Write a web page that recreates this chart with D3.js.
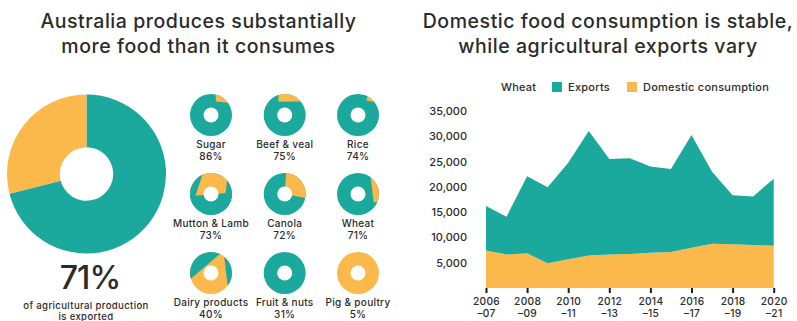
<!DOCTYPE html>
<html lang="en">
<head>
<meta charset="UTF-8">
<title>Australian food production</title>
<script src="https://d3js.org/d3.v7.min.js"></script>
<style>
  body { margin: 0; background: #fff; }
  text { font-family: Inter, "Noto Sans", sans-serif; fill: #2b2b2b; }
</style>
</head>
<body>
<div id="chart"></div>
<script>
  const teal = "#1ba89d";
  const orange = "#fbb94c";

  // left panel
  const exportedShare = [71, 29];   // exported, domestic
  const cropNames = ["Sugar", "Beef & veal", "Rice", "Mutton & Lamb", "Canola", "Wheat",
                     "Dairy products", "Fruit & nuts", "Pig & poultry"];
  const cropExportPct = [86, 75, 74, 73, 72, 71, 40, 31, 5];
  // colour that fills each small donut before its patches are laid on
  const cropBase = ["exp", "exp", "exp", "exp", "exp", "exp", "dom", "exp", "dom"];
  // patches as drawn in the picture: [from deg, to deg, colour, closing corner deg, corner depth]
  // no corner -> closed by a chord
  const cropPatches = [
    [[13, 54, "dom", 20, 0.68]],
    [[-17, 50, "dom", -25, 0.7]],
    [[27, 52, "dom", 30, 0.8]],
    [[264, 446, "dom"], [241, 336, "exp"], [50, 144, "exp"]],
    [[4, 101, "dom", 0, 0]],
    [[37, 112, "dom", 118, 0.85]],
    [[254, 385, "exp"], [39, 127, "exp"]],
    [],
    []
  ];

  // right panel (wheat, kilotonnes)
  const years = [2006, 2007, 2008, 2009, 2010, 2011, 2012, 2013, 2014, 2015, 2016, 2017, 2018, 2019, 2020];
  const domestic = [7400, 6600, 6850, 4900, 5700, 6450, 6600, 6700, 6950, 7100, 7950, 8750, 8650, 8500, 8350];
  const exports = [8800, 7500, 15250, 15000, 19050, 24600, 18900, 18950, 17100, 16450, 22300, 14250, 9700, 9600, 13250];
  const yTicks = [5000, 10000, 15000, 20000, 25000, 30000, 35000];
  const xTicks = [2006, 2008, 2010, 2012, 2014, 2016, 2018, 2020];

  const colourOf = k => k === "exp" ? teal : orange;

  const svg = d3.select("#chart").append("svg")
    .attr("width", 797)
    .attr("height", 321);

  // titles
  const titles = [
    { x: 198.5, lines: ["Australia produces substantially", "more food than it consumes"] },
    { x: 608, lines: ["Domestic food consumption is stable,", "while agricultural exports vary"] }
  ];
  titles.forEach(t => {
    svg.append("g").selectAll("text")
      .data(t.lines)
      .join("text")
      .attr("x", t.x)
      .attr("y", (d, i) => 28 + i * 24.5)
      .attr("text-anchor", "middle")
      .attr("font-size", 19.5)
      .attr("font-weight", 500)
      .attr("letter-spacing", 0.55)
      .text(d => d);
  });

  // big donut
  const big = svg.append("g").attr("transform", "translate(86.5,174)");
  const pie = d3.pie().sort(null).value(d => d);
  const bigArc = d3.arc().innerRadius(26.7).outerRadius(79.5);
  big.selectAll("path")
    .data(pie(exportedShare))
    .join("path")
    .attr("d", bigArc)
    .attr("fill", (d, i) => i === 0 ? teal : orange);

  svg.append("text")
    .attr("x", 90).attr("y", 289)
    .attr("text-anchor", "middle")
    .attr("font-size", 32)
    .attr("font-weight", 500)
    .attr("letter-spacing", -1)
    .text(exportedShare[0] + "%");
  svg.append("g").selectAll("text")
    .data(["of agricultural production", "is exported"])
    .join("text")
    .attr("x", 86).attr("y", (d, i) => 308.6 + i * 11.7)
    .attr("text-anchor", "middle")
    .attr("font-size", 9.6)
    .attr("font-weight", 500)
    .attr("letter-spacing", 0.35)
    .text(d => d);

  // small donuts
  const colX = [211, 284.7, 358];
  const rowY = [115, 194, 273];
  const R = 21, r = 7.5;
  const rad = deg => deg * Math.PI / 180;

  function patchPath(p) {
    const path = d3.path();
    const a0 = rad(p[0]) - Math.PI / 2, a1 = rad(p[1]) - Math.PI / 2;
    path.moveTo(R * Math.cos(a0), R * Math.sin(a0));
    path.arc(0, 0, R, a0, a1, false);
    if (p.length > 3) {
      const ac = rad(p[3]) - Math.PI / 2;
      path.lineTo(R * p[4] * Math.cos(ac), R * p[4] * Math.sin(ac));
    }
    path.closePath();
    return path.toString();
  }

  cropNames.forEach((name, i) => {
    const g = svg.append("g")
      .attr("transform", `translate(${colX[i % 3]},${rowY[Math.floor(i / 3)]})`);
    g.append("circle").attr("r", R).attr("fill", colourOf(cropBase[i]));
    g.selectAll("path.patch")
      .data(cropPatches[i])
      .join("path")
      .attr("class", "patch")
      .attr("d", patchPath)
      .attr("fill", d => colourOf(d[2]));
    g.append("circle").attr("r", r).attr("fill", "#fff");
    g.selectAll("text")
      .data([name, cropExportPct[i] + "%"])
      .join("text")
      .attr("y", (d, j) => 32.6 + j * 12.3)
      .attr("text-anchor", "middle")
      .attr("font-size", 10)
      .attr("font-weight", 500)
      .attr("letter-spacing", 0.3)
      .text(d => d);
  });

  // area chart
  const xScale = d3.scaleLinear().domain([2006, 2020]).range([486, 773.7]);
  const yScale = d3.scaleLinear().domain([0, 35000]).range([288, 111]);

  const rows = years.map((y, i) => ({ year: y, domestic: domestic[i], exports: exports[i] }));
  const layers = d3.stack().keys(["domestic", "exports"])(rows);

  const area = d3.area()
    .x(d => xScale(d.data.year))
    .y0(d => yScale(d[0]))
    .y1(d => yScale(d[1]));

  svg.append("g").selectAll("path")
    .data(layers)
    .join("path")
    .attr("d", area)
    .attr("fill", d => d.key === "exports" ? teal : orange);

  const yAxis = svg.append("g")
    .attr("transform", "translate(470,0)")
    .call(d3.axisLeft(yScale).tickValues(yTicks).tickFormat(d3.format(",")).tickSize(0).tickPadding(3));
  yAxis.select(".domain").remove();
  yAxis.selectAll("text")
    .attr("font-family", "Inter, sans-serif")
    .attr("font-size", 11)
    .attr("font-weight", 500)
    .attr("fill", "#2b2b2b");

  // x axis: tick marks from the axis, two-line labels as separate texts
  const xAxis = svg.append("g")
    .attr("transform", "translate(0,288)")
    .call(d3.axisBottom(xScale).tickValues(xTicks).tickSize(5).tickFormat(""));
  xAxis.select(".domain").remove();
  xAxis.selectAll(".tick text").remove();
  xAxis.selectAll(".tick line").attr("stroke", "#1d1d1d").attr("stroke-width", 2);
  xAxis.selectAll(".tick").each(function (d) {
    d3.select(this).selectAll("text.lbl")
      .data([String(d), "–" + String(d + 1).slice(2)])
      .join("text")
      .attr("class", "lbl")
      .attr("y", (t, j) => 16.6 + j * 12.4)
      .attr("text-anchor", "middle")
      .attr("font-family", "Inter, sans-serif")
      .attr("font-size", 10.2)
      .attr("font-weight", 500)
      .attr("letter-spacing", 0.3)
      .attr("fill", "#2b2b2b")
      .text(t => t);
  });

  // legend
  const legend = svg.append("g");
  legend.append("text").attr("x", 501).attr("y", 91)
    .attr("font-size", 11).attr("font-weight", 500).attr("letter-spacing", 0.2).text("Wheat");
  const legendItems = [
    { label: "Exports", colour: teal, x: 552 },
    { label: "Domestic consumption", colour: orange, x: 627 }
  ];
  legendItems.forEach(it => {
    legend.append("rect").attr("x", it.x).attr("y", 82).attr("width", 10).attr("height", 10).attr("fill", it.colour);
    legend.append("text").attr("x", it.x + 16).attr("y", 91)
      .attr("font-size", 11).attr("font-weight", 500).attr("letter-spacing", 0.25).text(it.label);
  });
</script>
</body>
</html>
